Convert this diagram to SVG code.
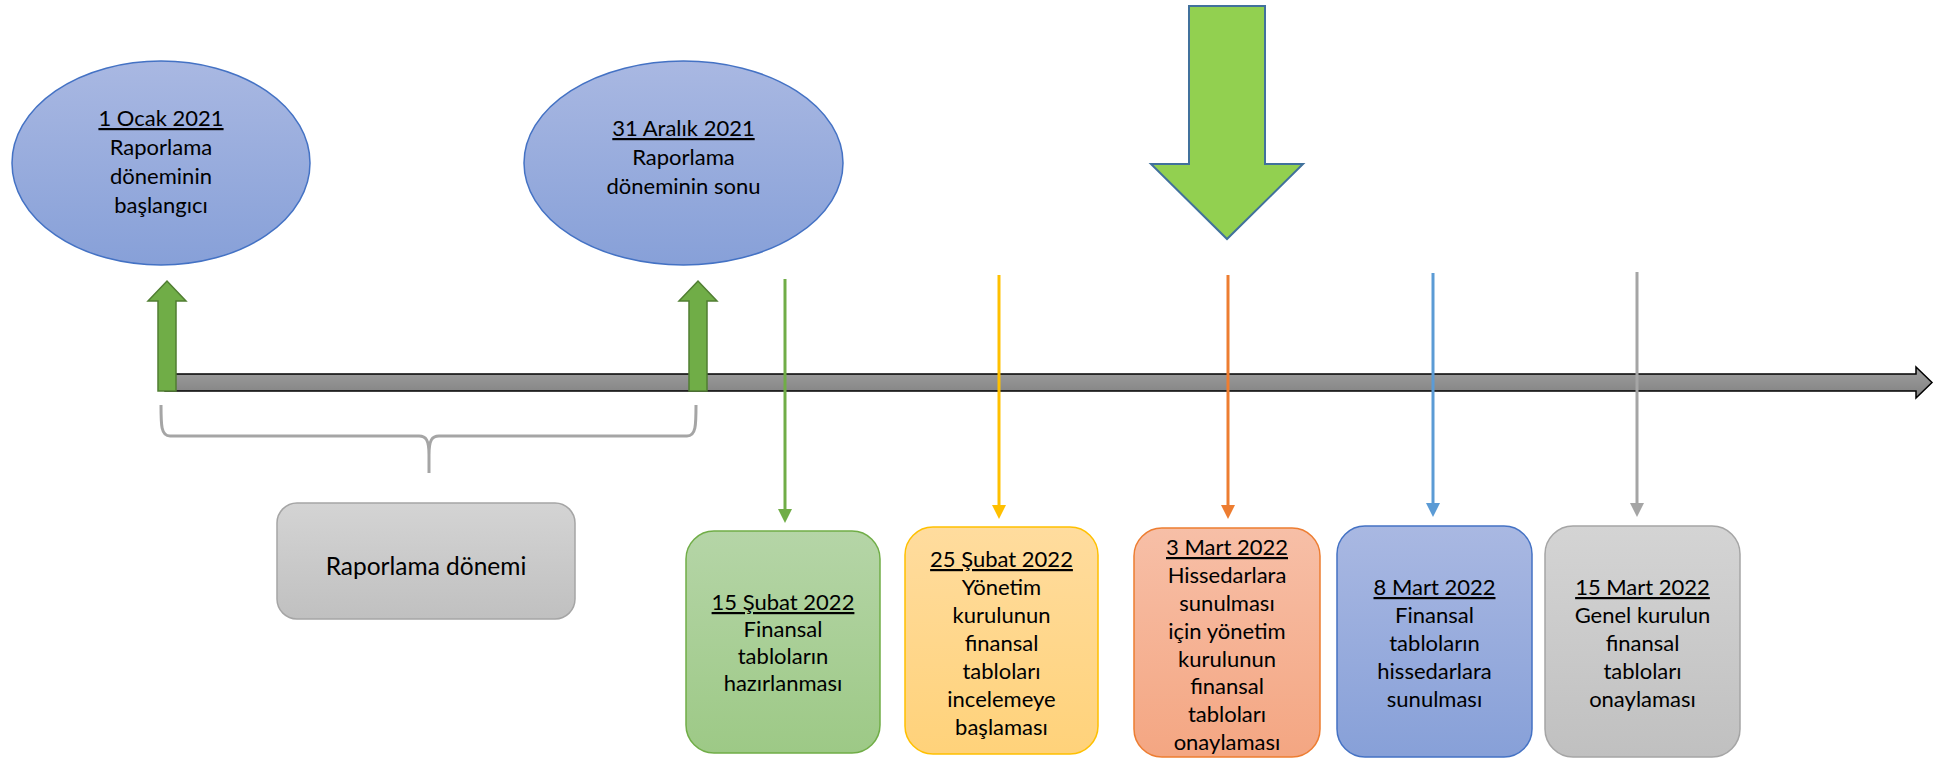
<svg xmlns="http://www.w3.org/2000/svg" width="1948" height="759" viewBox="0 0 1948 759">
<style>
text{font-family:Lato,"Liberation Sans",sans-serif;font-size:22px;fill:#000;text-anchor:middle}
.u{text-decoration:underline}
.big{font-size:24.5px}
.vl{stroke-width:3;fill:none}
</style>
<defs>
<linearGradient id="gBlue" x1="0" y1="0" x2="0" y2="1"><stop offset="0" stop-color="#a9b8e2"/><stop offset="1" stop-color="#87a0d8"/></linearGradient>
<linearGradient id="gGreen" x1="0" y1="0" x2="0" y2="1"><stop offset="0" stop-color="#b5d5a7"/><stop offset="1" stop-color="#9dc986"/></linearGradient>
<linearGradient id="gYellow" x1="0" y1="0" x2="0" y2="1"><stop offset="0" stop-color="#ffdc9e"/><stop offset="1" stop-color="#ffd27a"/></linearGradient>
<linearGradient id="gOrange" x1="0" y1="0" x2="0" y2="1"><stop offset="0" stop-color="#f7bfa7"/><stop offset="1" stop-color="#f4a682"/></linearGradient>
<linearGradient id="gGray" x1="0" y1="0" x2="0" y2="1"><stop offset="0" stop-color="#d4d4d4"/><stop offset="1" stop-color="#c0c0c0"/></linearGradient>
<linearGradient id="gBar" x1="0" y1="0" x2="0" y2="1"><stop offset="0" stop-color="#a0a0a0"/><stop offset="1" stop-color="#808080"/></linearGradient>
<marker id="mG" viewBox="0 0 14 14" refX="1" refY="7" markerWidth="14" markerHeight="14" markerUnits="userSpaceOnUse" orient="auto"><path d="M0,0 L14,7 L0,14 z" fill="#70ad47"/></marker>
<marker id="mY" viewBox="0 0 14 14" refX="1" refY="7" markerWidth="14" markerHeight="14" markerUnits="userSpaceOnUse" orient="auto"><path d="M0,0 L14,7 L0,14 z" fill="#ffc000"/></marker>
<marker id="mO" viewBox="0 0 14 14" refX="1" refY="7" markerWidth="14" markerHeight="14" markerUnits="userSpaceOnUse" orient="auto"><path d="M0,0 L14,7 L0,14 z" fill="#ed7d31"/></marker>
<marker id="mB" viewBox="0 0 14 14" refX="1" refY="7" markerWidth="14" markerHeight="14" markerUnits="userSpaceOnUse" orient="auto"><path d="M0,0 L14,7 L0,14 z" fill="#5b9bd5"/></marker>
<marker id="mS" viewBox="0 0 14 14" refX="1" refY="7" markerWidth="14" markerHeight="14" markerUnits="userSpaceOnUse" orient="auto"><path d="M0,0 L14,7 L0,14 z" fill="#a5a5a5"/></marker>
</defs>

<g id="timeline">
<polygon points="165,374 1916,374 1916,367 1932,382.5 1916,398 1916,391 165,391" fill="url(#gBar)" stroke="#000" stroke-width="1.5" stroke-linejoin="miter"/>
</g>

<g id="brace">
<path d="M161,405 C161,425 161,436 170,436 L419,436 C426,436 429,440 429,455 L429,473 M429,455 C429,440 432,436 439,436 L687,436 C696,436 696,425 696,405" fill="none" stroke="#a5a5a5" stroke-width="3"/>
</g>

<g id="ellipse-start">
<ellipse cx="161" cy="163" rx="149" ry="102" fill="url(#gBlue)" stroke="#4472c4" stroke-width="1.5"/>
<text x="161" y="126" class="u">1 Ocak 2021</text>
<text x="161" y="155">Raporlama</text>
<text x="161" y="184">döneminin</text>
<text x="161" y="213">başlangıcı</text>
</g>

<g id="ellipse-end">
<ellipse cx="683.5" cy="163" rx="159.5" ry="102" fill="url(#gBlue)" stroke="#4472c4" stroke-width="1.5"/>
<text x="683.5" y="136" class="u">31 Aralık 2021</text>
<text x="683.5" y="165">Raporlama</text>
<text x="683.5" y="194">döneminin sonu</text>
</g>

<g id="big-arrow">
<polygon points="1189,6 1265,6 1265,164 1303,164 1227,239 1151,164 1189,164" fill="#92d050" stroke="#41719c" stroke-width="2"/>
</g>

<g id="up-arrow-1">
<polygon points="158,391 158,301 148,301 167,281 186,301 176,301 176,391" fill="#70ad47" stroke="#507e32" stroke-width="1.5"/>
</g>
<g id="up-arrow-2">
<polygon points="689,391 689,301 679,301 698,281 717,301 707,301 707,391" fill="#70ad47" stroke="#507e32" stroke-width="1.5"/>
</g>

<g id="connectors">
<line class="vl" x1="785" y1="279" x2="785" y2="510" stroke="#70ad47" marker-end="url(#mG)"/>
<line class="vl" x1="999" y1="275" x2="999" y2="506" stroke="#ffc000" marker-end="url(#mY)"/>
<line class="vl" x1="1228" y1="275" x2="1228" y2="506" stroke="#ed7d31" marker-end="url(#mO)"/>
<line class="vl" x1="1433" y1="273" x2="1433" y2="504" stroke="#5b9bd5" marker-end="url(#mB)"/>
<line class="vl" x1="1637" y1="272" x2="1637" y2="504" stroke="#a5a5a5" marker-end="url(#mS)"/>
</g>

<g id="period-box">
<rect x="277" y="503" width="298" height="116" rx="20" fill="url(#gGray)" stroke="#a5a5a5" stroke-width="1.5"/>
<text x="426" y="575" class="big">Raporlama dönemi</text>
</g>

<g id="box-15-subat">
<rect x="686" y="531" width="194" height="222" rx="28" fill="url(#gGreen)" stroke="#70ad47" stroke-width="1.5"/>
<text x="783" y="610" class="u">15 Şubat 2022</text>
<text x="783" y="637">Finansal</text>
<text x="783" y="664">tabloların</text>
<text x="783" y="691">hazırlanması</text>
</g>

<g id="box-25-subat">
<rect x="905" y="527" width="193" height="227" rx="28" fill="url(#gYellow)" stroke="#ffc000" stroke-width="1.5"/>
<text x="1001.5" y="567" class="u">25 Şubat 2022</text>
<text x="1001.5" y="595">Yönetim</text>
<text x="1001.5" y="623">kurulunun</text>
<text x="1001.5" y="651">finansal</text>
<text x="1001.5" y="679">tabloları</text>
<text x="1001.5" y="707">incelemeye</text>
<text x="1001.5" y="735">başlaması</text>
</g>

<g id="box-3-mart">
<rect x="1134" y="528" width="186" height="229" rx="28" fill="url(#gOrange)" stroke="#ed7d31" stroke-width="1.5"/>
<text x="1227" y="555" class="u">3 Mart 2022</text>
<text x="1227" y="583">Hissedarlara</text>
<text x="1227" y="611">sunulması</text>
<text x="1227" y="639">için yönetim</text>
<text x="1227" y="667">kurulunun</text>
<text x="1227" y="694">finansal</text>
<text x="1227" y="722">tabloları</text>
<text x="1227" y="750">onaylaması</text>
</g>

<g id="box-8-mart">
<rect x="1337" y="526" width="195" height="231" rx="28" fill="url(#gBlue)" stroke="#4472c4" stroke-width="1.5"/>
<text x="1434.5" y="595" class="u">8 Mart 2022</text>
<text x="1434.5" y="623">Finansal</text>
<text x="1434.5" y="651">tabloların</text>
<text x="1434.5" y="679">hissedarlara</text>
<text x="1434.5" y="707">sunulması</text>
</g>

<g id="box-15-mart">
<rect x="1545" y="526" width="195" height="231" rx="28" fill="url(#gGray)" stroke="#a5a5a5" stroke-width="1.5"/>
<text x="1642.5" y="595" class="u">15 Mart 2022</text>
<text x="1642.5" y="623">Genel kurulun</text>
<text x="1642.5" y="651">finansal</text>
<text x="1642.5" y="679">tabloları</text>
<text x="1642.5" y="707">onaylaması</text>
</g>
</svg>
